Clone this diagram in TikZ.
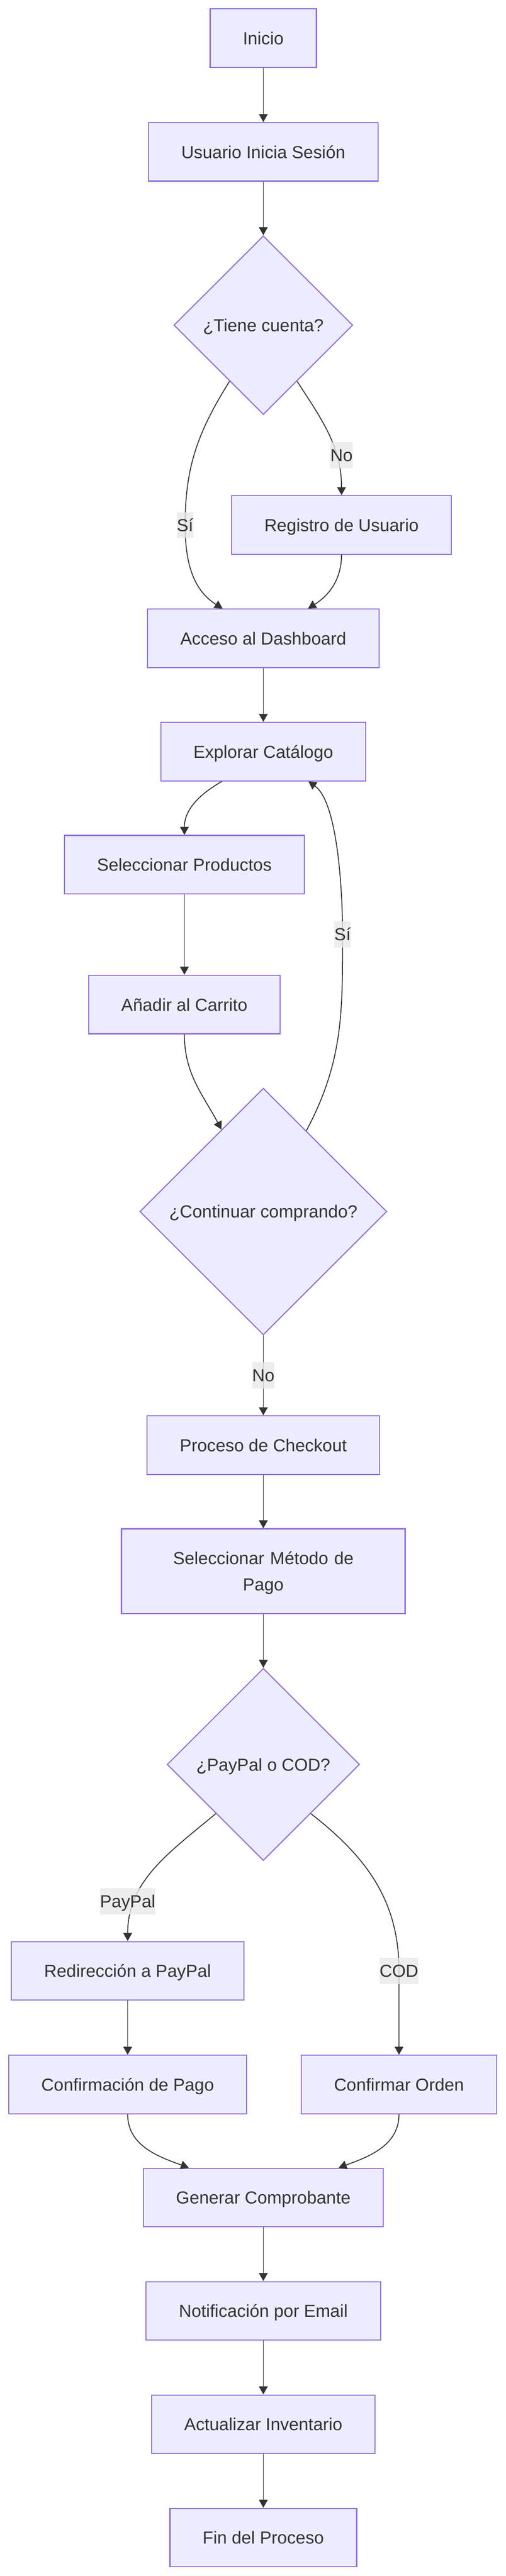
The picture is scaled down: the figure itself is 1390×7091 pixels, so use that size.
\documentclass[tikz,border=0pt]{standalone}
\usepackage{fontspec}
\setmainfont{Liberation Sans}
\usetikzlibrary{shapes.geometric,arrows.meta}
\definecolor{relleno}{HTML}{ECECFF}
\definecolor{borde}{HTML}{9370DB}
\definecolor{linea}{HTML}{333333}
\definecolor{fondoetq}{HTML}{E8E8E8}
\begin{document}
\begin{tikzpicture}[x=1pt,y=1pt,font=\fontsize{48}{72}\selectfont,text=linea,
    caja/.style={draw=borde,fill=relleno,line width=3pt,inner xsep=90pt,inner ysep=0pt,minimum height=161pt,text height=35pt,text depth=0pt},
    rombo/.style={diamond,draw=borde,fill=relleno,line width=3pt,inner sep=0pt,text height=35pt,text depth=0pt},
    flecha/.style={draw=linea,line width=2.5pt,-{Triangle[length=22pt,width=24pt]}},
    etiqueta/.style={fill=fondoetq,fill opacity=0.8,text opacity=1,inner sep=0pt,minimum height=72pt,text height=35pt,text depth=0pt}]
        \useasboundingbox (0,0) rectangle (1390,-7091);
        \node[caja] (inicio) at (724,-105) {Inicio};
        \node[caja] (usuario) at (724,-418) {Usuario Inicia Sesión};
        \node[rombo,minimum size=492pt] (tiene) at (724,-895) {¿Tiene cuenta?};
        \node[caja] (registro) at (939,-1445) {Registro de Usuario};
        \node[caja] (acceso) at (724,-1757) {Acceso al Dashboard};
        \node[caja] (explorar) at (724,-2069) {Explorar Catálogo};
        \node[caja] (selprod) at (507,-2380) {Seleccionar Productos};
        \node[caja] (anadir) at (507,-2765) {Añadir al Carrito};
        \node[rombo,minimum size=679pt] (continuar) at (724,-3335) {¿Continuar comprando?};
        \node[caja] (checkout) at (724,-3978) {Proceso de Checkout};
        \node[caja,text width=600pt,align=center,text depth=72pt,minimum height=233pt] (metodo) at (724,-4325) {Seleccionar Método de\\Pago};
        \node[rombo,minimum size=529pt] (pago) at (724,-4857) {¿PayPal o COD?};
        \node[caja] (redir) at (351,-5425) {Redirección a PayPal};
        \node[caja] (confpago) at (351,-5738) {Confirmación de Pago};
        \node[caja] (confirmar) at (1097,-5738) {Confirmar Orden};
        \node[caja] (generar) at (724,-6049) {Generar Comprobante};
        \node[caja] (email) at (724,-6361) {Notificación por Email};
        \node[caja] (inventario) at (724,-6673) {Actualizar Inventario};
        \node[caja] (fin) at (724,-6985) {Fin del Proceso};
        \coordinate (pNo1) at (939,-1253);
        \coordinate (pSi1) at (509,-1445);
        \coordinate (pSi2) at (942,-2572);
        \coordinate (pNo2) at (724,-3786);
        \coordinate (pPaypal) at (351,-5234);
        \coordinate (pCod) at (1097,-5425);
        \draw[flecha] (inicio) -- (usuario);
        \draw[flecha] (usuario) -- (tiene);
        \draw[flecha] (tiene.-121) to[out=-122,in=90] (pSi1) to[out=-90,in=148] ([xshift=-112pt]acceso.north);
        \draw[flecha] (tiene.-59) to[out=-57,in=90] (registro.north);
        \draw[flecha] (registro.south) to[out=-90,in=32] ([xshift=123pt]acceso.north);
        \draw[flecha] (acceso) -- (explorar);
        \draw[flecha] ([xshift=-114pt]explorar.south) to[out=-150,in=90] (selprod.north);
        \draw[flecha] (selprod) -- (anadir);
        \draw[flecha] (anadir.south) to[out=-90,in=118] (continuar.117);
        \draw[flecha] (continuar.62) to[out=62,in=-90] (pSi2) to[out=90,in=-35,looseness=0.6] ([xshift=124pt]explorar.south);
        \draw[flecha] (continuar) -- (checkout);
        \draw[flecha] (checkout) -- (metodo);
        \draw[flecha] (metodo) -- (pago);
        \draw[flecha] (pago.-134) to[out=-140,in=90] (redir.north);
        \draw[flecha] (pago.-46) to[out=-38,in=90] (pCod) -- (confirmar.north);
        \draw[flecha] (redir) -- (confpago);
        \draw[flecha] (confpago.south) to[out=-90,in=160] ([xshift=-205pt]generar.north);
        \draw[flecha] (confirmar.south) to[out=-90,in=20] ([xshift=207pt]generar.north);
        \draw[flecha] (generar) -- (email);
        \draw[flecha] (email) -- (inventario);
        \draw[flecha] (inventario) -- (fin);
        \node[etiqueta] (etqNo1) at (pNo1) {No};
        \node[etiqueta] (etqSi1) at (pSi1) {Sí};
        \node[etiqueta] (etqSi2) at (pSi2) {Sí};
        \node[etiqueta] (etqNo2) at (pNo2) {No};
        \node[etiqueta] (etqPaypal) at (pPaypal) {PayPal};
        \node[etiqueta] (etqCod) at (pCod) {COD};
    \end{tikzpicture}
\end{document}
